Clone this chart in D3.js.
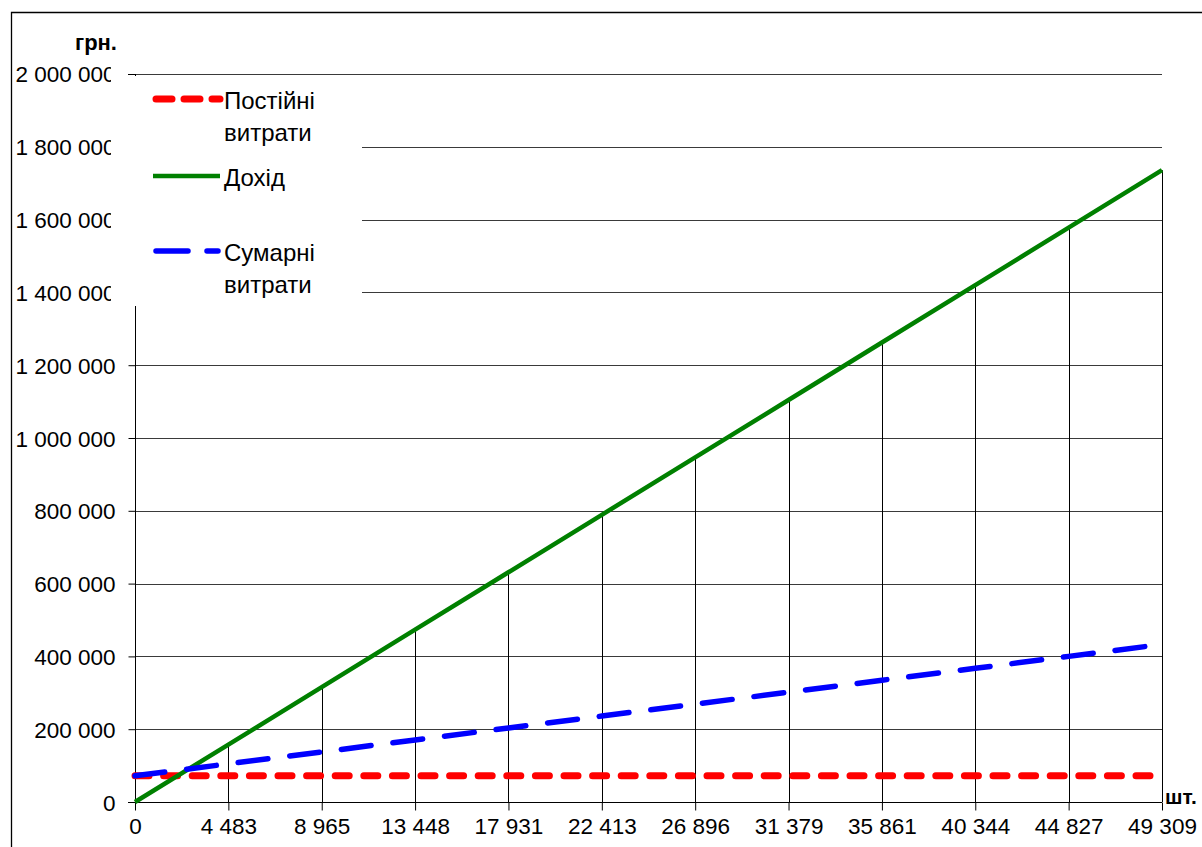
<!DOCTYPE html>
<html>
<head>
<meta charset="utf-8">
<script src="https://cdn.jsdelivr.net/npm/d3@7"></script>
<style>
  html, body { margin: 0; padding: 0; background: #fff; }
  svg { display: block; font-family: "Liberation Sans", Arial, sans-serif; }
</style>
</head>
<body>
<svg id="chart" width="1202" height="847"></svg>
<script>
// Break-even chart: output volume (units) vs. money (UAH)
const quantities = [0, 4483, 8965, 13448, 17931, 22413, 26896, 31379, 35861, 40344, 44827, 49309];
const xTickLabels = ["0", "4 483", "8 965", "13 448", "17 931", "22 413", "26 896", "31 379", "35 861", "40 344", "44 827", "49 309"];
const fixedCosts = [72000, 72000, 72000, 72000, 72000, 72000, 72000, 72000, 72000, 72000, 72000, 72000];
const revenue = [0, 157800, 315600, 473400, 631200, 789000, 946700, 1104500, 1262300, 1420100, 1577900, 1735700];
const totalCosts = [72000, 104800, 137600, 170400, 203300, 236100, 268900, 301700, 334500, 367300, 400100, 432900];
const yTicks = [0, 200000, 400000, 600000, 800000, 1000000, 1200000, 1400000, 1600000, 1800000, 2000000];

const svg = d3.select("#chart");
const fmt = v => d3.format(",")(v).replace(/,/g, " ");
const tickFont = 22.5;

const plotL = 135, plotR = 1162, plotT = 74, plotB = 802;
const x = d3.scalePoint().domain(d3.range(quantities.length)).range([plotL, plotR]);
const y = d3.scaleLinear().domain([0, 2000000]).range([plotB, plotT]);

// outer frame
svg.append("path").attr("d", "M11.5,847 V12.5 H1202")
  .attr("fill", "none").attr("stroke", "#000").attr("stroke-width", 1.3);

// horizontal gridlines
svg.append("g").selectAll("line").data(yTicks.slice(1)).join("line")
  .attr("x1", plotL).attr("x2", plotR)
  .attr("y1", d => Math.round(y(d)) + 0.5).attr("y2", d => Math.round(y(d)) + 0.5)
  .attr("stroke", "#3a3a3a").attr("stroke-width", 1);

// drop lines from the revenue line to the axis
svg.append("g").selectAll("line").data(d3.range(1, quantities.length)).join("line")
  .attr("x1", i => Math.round(x(i)) + 0.5).attr("x2", i => Math.round(x(i)) + 0.5)
  .attr("y1", i => y(revenue[i])).attr("y2", plotB)
  .attr("stroke", "#000").attr("stroke-width", 1);

// y axis
const yAxis = d3.axisLeft(y).tickValues(yTicks).tickSize(7).tickPadding(13).tickFormat(fmt);
const yg = svg.append("g").attr("transform", `translate(${plotL + 0.5},0)`).call(yAxis);
yg.select(".domain").attr("stroke", "#000").attr("d", `M0,${plotB}V${plotT}`);
yg.selectAll(".tick line").attr("stroke", "#000");
yg.selectAll(".tick text").attr("font-size", tickFont).attr("fill", "#000")
  .attr("font-family", "Liberation Sans, Arial, sans-serif").attr("dy", "0.36em");

// x axis
const xAxis = d3.axisBottom(x).tickSize(8).tickPadding(8).tickFormat(i => xTickLabels[i]);
const xg = svg.append("g").attr("transform", `translate(0,${plotB + 0.5})`).call(xAxis);
xg.select(".domain").attr("stroke", "#000").attr("d", `M${plotL - 7},0H${plotR}`);
xg.selectAll(".tick line").attr("stroke", "#000");
xg.selectAll(".tick text").attr("font-size", tickFont).attr("fill", "#000")
  .attr("font-family", "Liberation Sans, Arial, sans-serif").attr("dy", "0.71em");

// series
const line = d3.line().x((d, i) => x(i)).y(d => y(d));
svg.append("path").datum(fixedCosts).attr("d", line)
  .attr("fill", "none").attr("stroke", "#ff0000").attr("stroke-width", 7)
  .attr("stroke-linecap", "round").attr("stroke-dasharray", "14 14.6");
svg.append("path").datum(revenue).attr("d", line)
  .attr("fill", "none").attr("stroke", "#008000").attr("stroke-width", 4.5);
svg.append("path").datum(totalCosts).attr("d", line)
  .attr("fill", "none").attr("stroke", "#0000ff").attr("stroke-width", 5.5)
  .attr("stroke-linecap", "round").attr("stroke-dasharray", "30 22");

// legend box (covers the plot area beneath it)
const lg = svg.append("g");
lg.append("rect").attr("x", 111).attr("y", 76).attr("width", 251).attr("height", 230).attr("fill", "#fff");

// upper tick labels are cut by the legend edge
svg.append("clipPath").attr("id", "lblclip").append("rect").attr("x", 0).attr("y", 0).attr("width", 111).attr("height", 847);
yg.selectAll(".tick").filter(d => d >= 1400000).select("text").remove();
yg.selectAll(".tick").filter(d => d >= 1400000).select("line").remove();
const topLabels = svg.append("g").attr("clip-path", "url(#lblclip)");
topLabels.selectAll("text").data(yTicks.filter(d => d >= 1400000)).join("text")
  .attr("x", plotL + 0.5 - 20).attr("y", d => y(d)).attr("dy", "0.36em")
  .attr("text-anchor", "end").attr("font-size", tickFont).attr("fill", "#000").text(fmt);
// tick at the top gridline stays visible
svg.append("line").attr("x1", plotL - 7).attr("x2", plotL)
  .attr("y1", Math.round(y(2000000)) + 0.5).attr("y2", Math.round(y(2000000)) + 0.5)
  .attr("stroke", "#000");

// legend entries
const legendLines = [["Постійні", "витрати"], ["Дохід"], ["Сумарні", "витрати"]];
const markerY = [99, 176, 251];
const textBase = [109, 186, 261];
lg.append("line").attr("x1", 156).attr("x2", 220).attr("y1", markerY[0]).attr("y2", markerY[0])
  .attr("stroke", "#ff0000").attr("stroke-width", 7).attr("stroke-linecap", "round").attr("stroke-dasharray", "16 12");
lg.append("line").attr("x1", 153).attr("x2", 220).attr("y1", markerY[1]).attr("y2", markerY[1])
  .attr("stroke", "#008000").attr("stroke-width", 4.5);
lg.append("line").attr("x1", 156).attr("x2", 218).attr("y1", markerY[2]).attr("y2", markerY[2])
  .attr("stroke", "#0000ff").attr("stroke-width", 5.5).attr("stroke-linecap", "round").attr("stroke-dasharray", "32 19");
legendLines.forEach((ls, k) => {
  const t = lg.append("text").attr("x", 224).attr("y", textBase[k]).attr("font-size", 24).attr("fill", "#000");
  ls.forEach((s, j) => t.append("tspan").attr("x", 224).attr("dy", j === 0 ? 0 : 32).text(s));
});

// axis unit titles
svg.append("text").attr("x", 117).attr("y", 50).attr("text-anchor", "end")
  .attr("font-size", 22).attr("font-weight", "bold").text("грн.");
svg.append("text").attr("x", 1165).attr("y", 804)
  .attr("font-size", 21).attr("font-weight", "bold").text("шт.");
</script>
</body>
</html>
